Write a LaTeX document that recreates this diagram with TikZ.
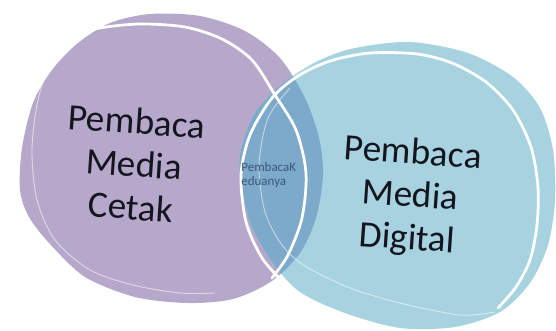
\documentclass[tikz,border=0pt]{standalone}
\usepackage{fontspec}
\setmainfont{Carlito}
\definecolor{lav}{HTML}{B6A8CB}
\definecolor{aqua}{HTML}{A6D3DF}
\definecolor{lapis}{HTML}{7DA9CA}
\definecolor{ink}{HTML}{15151F}
\definecolor{slate}{HTML}{3A5878}
% outlines of the two sets
\def\printset{plot[smooth cycle] coordinates{(20,190) (22,148) (33,103) (52,70) (78,43) (110,23) (150,14) (200,16) (245,31) (280,58) (305,98) (319,138) (323,175) (316,218) (300,253) (272,281) (233,299) (187,303) (135,297) (85,277) (50,244) (29,217)}}
\def\digitalset{plot[smooth cycle] coordinates{(240,175) (241,150) (252,118) (268,97) (290,78) (320,60) (355,48) (410,42) (468,53) (513,77) (540,108) (553,150) (555,200) (548,245) (530,283) (500,312) (455,327) (400,328) (345,313) (300,292) (272,262) (250,222)}}
\begin{document}
\begin{tikzpicture}[x=0.02cm,y=-0.02cm,
  rim/.style={draw=white,line width=0.055cm,line cap=round},
  faint/.style={draw=white,line width=0.018cm,opacity=0.55},
  big/.style={font=\fontsize{21.2}{24.4}\selectfont,text=ink,inner sep=0pt,rotate=-4,align=center},
  tiny/.style={font=\fontsize{7.4}{8}\selectfont,text=slate,inner sep=0pt,align=left}]
\useasboundingbox[fill=white] (0,0) rectangle (556,331);
% filled sets
\fill[lav] \printset;
\fill[aqua] \digitalset;
\begin{scope}
  \clip \printset;
  \fill[lapis] \digitalset;
\end{scope}
% faint inner strokes
\draw[faint] plot[smooth] coordinates{(75,36) (52,60) (38,100) (32,150) (37,200) (55,240) (90,270) (133,285) (180,293) (215,293)};
\draw[faint] plot[smooth] coordinates{(290,88) (268,118) (259,165) (265,212) (282,245) (305,266) (350,288) (400,303) (460,315) (495,312)};
% white sketch rims
\draw[rim] plot[smooth] coordinates{(70,37) (100,28) (140,24) (185,27) (222,39) (252,60) (275,95) (296,130) (306,173) (302,218) (288,255) (272,278)};
\draw[rim] plot[smooth] coordinates{(283,282) (262,258) (246,222) (241,175) (250,135) (272,98) (298,76) (330,61) (370,53) (417,54) (452,63) (486,82) (513,110) (531,147) (538,187) (537,225) (530,260) (516,287) (498,308)};
% labels
\node[big] (cetak) at (134,164) {Pembaca\\Media\\Cetak};
\node[big] (digital) at (410,197) {Pembaca\\Media\\Digital};
\node[tiny,anchor=north west] (both) at (241,162) {PembacaK\\eduanya};
\end{tikzpicture}
\end{document}
